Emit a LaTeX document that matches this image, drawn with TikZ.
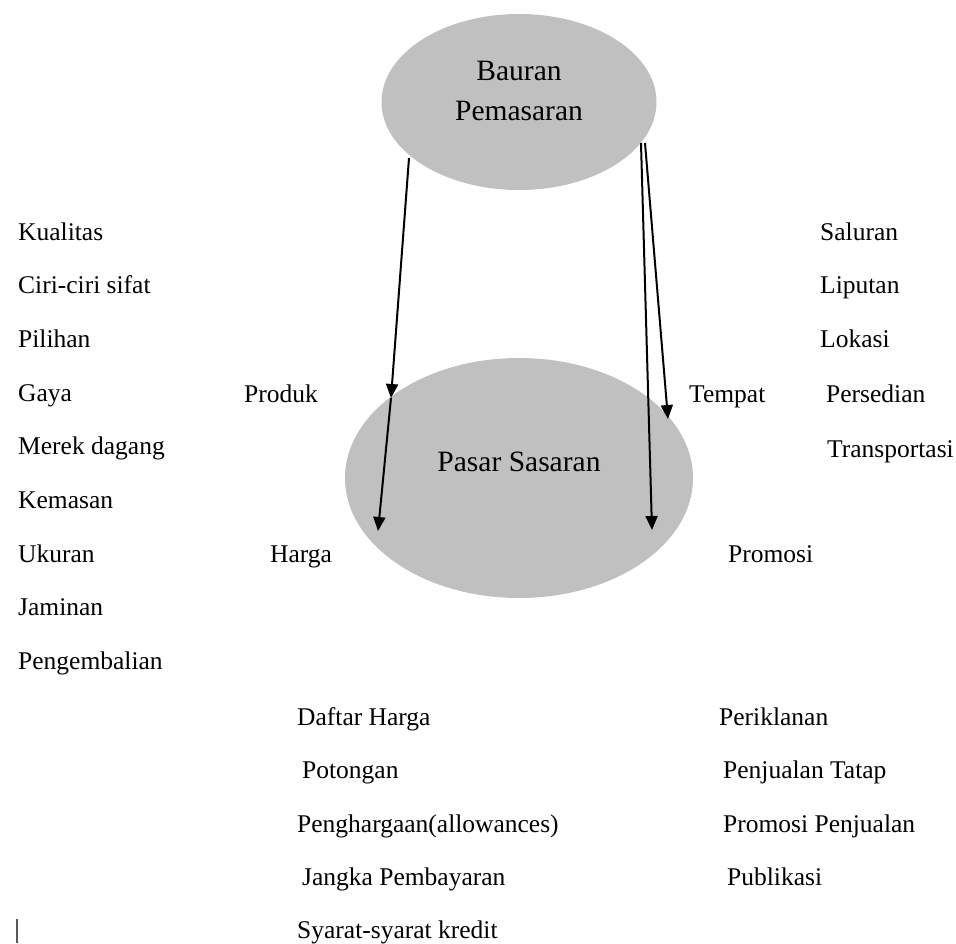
\documentclass[tikz,border=0pt]{standalone}
\usepackage{fontspec}
\setmainfont{Liberation Serif}
\usetikzlibrary{shapes.geometric,arrows.meta}
\definecolor{ellgray}{HTML}{C0C0C0}
\tikzset{
  lbl/.style={anchor=base west, inner sep=0pt, font=\fontsize{25.5}{30}\selectfont},
  bigtxt/.style={inner sep=0pt, align=center, font=\fontsize{29.5}{40}\selectfont},
  blob/.style={ellipse, fill=ellgray, draw=none, inner sep=0pt},
  arr/.style={line width=2pt, -{Triangle[length=14pt,width=12pt]}}
}
\begin{document}
\begin{tikzpicture}[x=1pt,y=-1pt]
\useasboundingbox (0,0) rectangle (956,943);
% ellipses
\node[blob, minimum width=275pt, minimum height=176pt] (bauran) at (519,102) {};
\node[bigtxt] (bauranTxt) at (519,91) {Bauran\\Pemasaran};
\node[blob, minimum width=348pt, minimum height=240pt] (pasar) at (519,478) {};
\node[bigtxt, anchor=base] (pasarTxt) at (519,471) {Pasar Sasaran};
% arrows
\coordinate (a1) at (409,158);
\coordinate (a2) at (391,398);
\coordinate (a3) at (378,531);
\coordinate (b1) at (641,143);
\coordinate (b2) at (652,530);
\coordinate (c1) at (645,143);
\coordinate (c2) at (668,419);
\draw[arr] (a1) -- (a2);
\draw[arr] (a2) -- (a3);
\draw[arr] (b1) -- (b2);
\draw[arr] (c1) -- (c2);
% left column
\node[lbl] (k1) at (18,240) {Kualitas};
\node[lbl] (k2) at (18,293.5) {Ciri-ciri sifat};
\node[lbl] (k3) at (18,347) {Pilihan};
\node[lbl] (k4) at (18,401) {Gaya};
\node[lbl] (k5) at (18,454.5) {Merek dagang};
\node[lbl] (k6) at (18,508) {Kemasan};
\node[lbl] (k7) at (18,562) {Ukuran};
\node[lbl] (k8) at (18,615.5) {Jaminan};
\node[lbl] (k9) at (18,669) {Pengembalian};
% four Ps
\node[lbl] (produk) at (244,402) {Produk};
\node[lbl] (harga) at (270,562) {Harga};
\node[lbl] (tempat) at (689,402) {Tempat};
\node[lbl] (promosi) at (728,562) {Promosi};
% right column
\node[lbl] (r1) at (820,240) {Saluran};
\node[lbl] (r2) at (820,293.5) {Liputan};
\node[lbl] (r3) at (820,347) {Lokasi};
\node[lbl] (r4) at (826,402) {Persedian};
\node[lbl] (r5) at (827,457) {Transportasi};
% bottom price column
\node[lbl] (h1) at (297,725) {Daftar Harga};
\node[lbl] (h2) at (302,778) {Potongan};
\node[lbl] (h3) at (297,832) {Penghargaan(allowances)};
\node[lbl] (h4) at (302,885) {Jangka Pembayaran};
\node[lbl] (h5) at (297,938) {Syarat-syarat kredit};
% bottom promo column
\node[lbl] (p1) at (719,725) {Periklanan};
\node[lbl] (p2) at (723,778) {Penjualan Tatap};
\node[lbl] (p3) at (723,832) {Promosi Penjualan};
\node[lbl] (p4) at (727,885) {Publikasi};
% cursor mark
\draw[gray!70!black, line width=1.3pt] (17,919) -- (17,943);
\end{tikzpicture}
\end{document}
